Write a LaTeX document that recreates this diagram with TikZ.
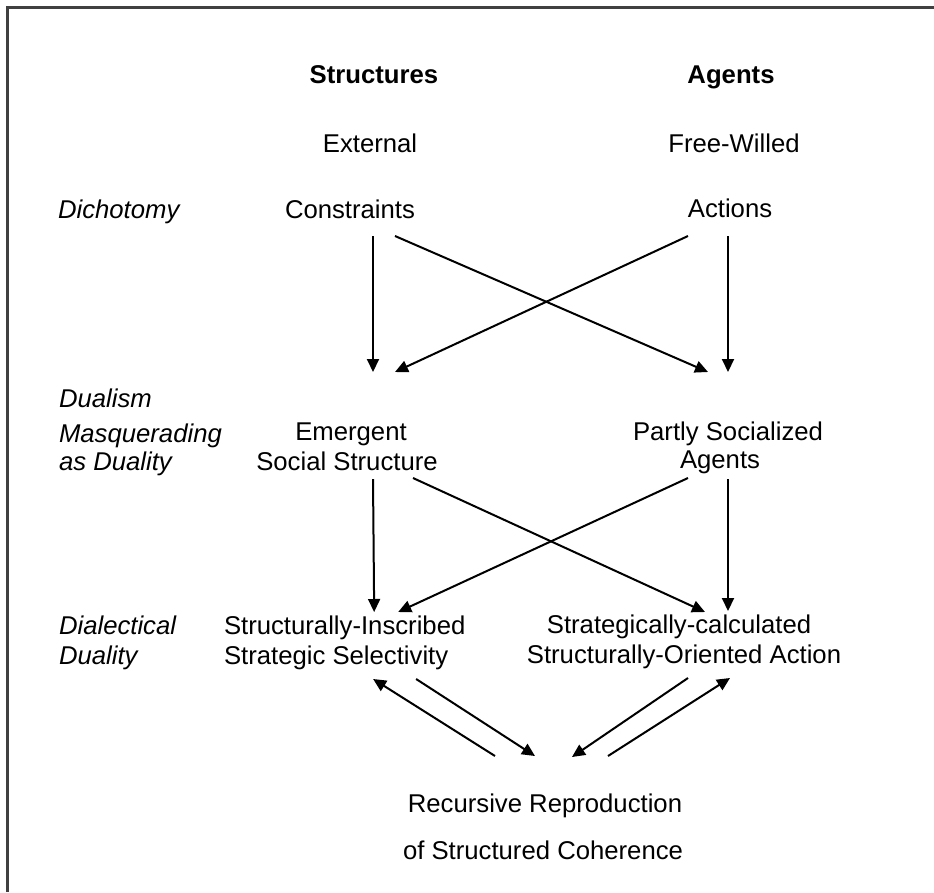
\documentclass[tikz,border=0pt]{standalone}
\usepackage{fontspec}
\setmainfont{Liberation Sans}
\usetikzlibrary{calc,arrows.meta}
\tikzset{
	% ------- every something
	every path/.style={
		line width=2pt,
	},
	% ------- custom
	txt/.style={
		anchor=base,
		inner sep=0pt,
		text height=19pt,
		text depth=5pt,
		font=\fontsize{25.7}{30}\selectfont,
	},
	heading/.style={
		txt,
		font=\fontsize{25.7}{30}\selectfont\bfseries,
	},
	level/.style={
		txt,
		anchor=base west,
		font=\fontsize{25.7}{30}\selectfont\itshape,
	},
	flow/.style={
		-{Triangle[length=13pt,width=12pt]},
	},
	frame/.style={
		line width=2.5pt,
		black!75,
	},
}

\begin{document}
\begin{tikzpicture}[x=1pt, y=-1pt]

% canvas, frame %{{{1

	\useasboundingbox (0,0) rectangle (934,892);
	\draw[frame] (934,7.5) -- (7.5,7.5) -- (7.5,892);

% column heads %{{{1

	\node[heading] (struct) at (374,83) {Structures};
	\node[heading] (agents) at (731,83) {Agents};

% dichotomy %{{{1

	\node[level] (dich) at (57,218) {Dichotomy};

	\node[txt] (ext)  at (370,152) {External};
	\node[txt] (free) at (734,152) {Free-Willed};
	\node[txt] (cons) at (350,218) {Constraints};
	\node[txt] (acts) at (730,217) {Actions};

% dualism masquerading as duality %{{{1

	\node[level] (dual1) at (58,407) {Dualism};
	\node[level] (dual2) at (58,442) {Masquerading};
	\node[level] (dual3) at (58,470) {as Duality};

	\node[txt] (emerg1)  at (351,440) {Emergent};
	\node[txt] (emerg2)  at (347,470) {Social Structure};
	\node[txt] (partly1) at (728,440) {Partly Socialized};
	\node[txt] (partly2) at (720,468) {Agents};

% dialectical duality %{{{1

	\node[level] (dial1) at (58,634) {Dialectical};
	\node[level] (dial2) at (58,664) {Duality};

	\node[txt, anchor=base west] (sis1) at (223,634) {Structurally-Inscribed};
	\node[txt, anchor=base west] (sis2) at (223,664) {Strategic Selectivity};
	\node[txt] (soa1) at (679,633) {Strategically-calculated};
	\node[txt] (soa2) at (684,663) {Structurally-Oriented Action};

% recursive reproduction %{{{1

	\node[txt] (rec1) at (545,812) {Recursive Reproduction};
	\node[txt] (rec2) at (543,859) {of Structured Coherence};

% arrows, first level %{{{1

	\draw[flow] ($(cons.south)+(23,12)$) -- ($(emerg1.north)+(22,-48)$);
	\draw[flow] ($(cons.south)+(45,12)$) -- ($(partly1.north)+(-20,-48)$);
	\draw[flow] ($(acts.south)+(-42,13)$) -- ($(emerg1.north)+(44,-48)$);
	\draw[flow] ($(acts.south)+(-2,13)$) -- ($(partly1.north)+(0,-48)$);

% arrows, second level %{{{1

	\draw[flow] ($(emerg2.south)+(26,3)$) -- ($(sis1.north)+(29.5,-2)$);
	\draw[flow] ($(emerg2.south)+(66,2)$) -- ($(soa1.north)+(26,-1)$);
	\draw[flow] ($(partly2.south)+(-32,4)$) -- ($(sis1.north)+(53.5,-2)$);
	\draw[flow] ($(partly2.south)+(8,5)$) -- ($(soa1.north)+(49,-2)$);

% arrows, recursion %{{{1

	\draw[flow] ($(rec1.north)+(-50,-36)$) -- ($(sis2.south)+(37,9)$);
	\draw[flow] ($(sis2.south)+(80,9)$) -- ($(rec1.north)+(-10,-36)$);
	\draw[flow] ($(soa2.south)+(4,9)$) -- ($(rec1.north)+(27,-35)$);
	\draw[flow] ($(rec1.north)+(63,-36)$) -- ($(soa2.south)+(46,9)$);

% closing %{{{1

\end{tikzpicture}
\end{document}
